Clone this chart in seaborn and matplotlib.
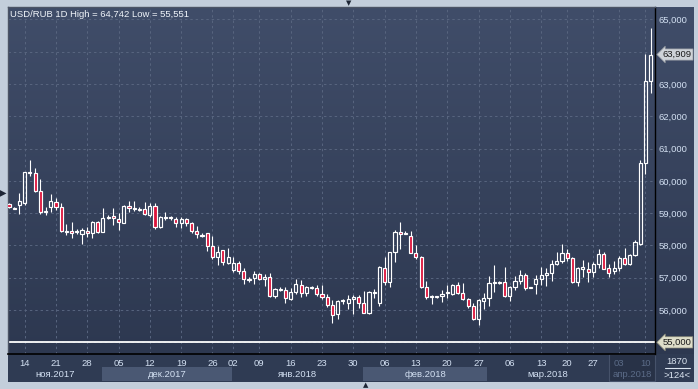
import numpy as np
import pandas as pd
import matplotlib
matplotlib.use("Agg")
import matplotlib.pyplot as plt
import matplotlib.transforms as mtransforms
from matplotlib.patches import Rectangle
from matplotlib.colors import LinearSegmentedColormap
import seaborn as sns

# ---------------- data (USD/RUB daily OHLC) ----------------
open_ = [59.28, 59.16, 59.25, 59.32, 60.24, 60.23, 59.68, 59.03, 59.19, 59.35,
         59.19, 58.43, 58.46, 58.42, 58.34, 58.46, 58.38, 58.72, 58.43, 58.86,
         58.91, 58.83, 58.71, 59.21, 59.14, 59.13, 59.12, 58.94, 59.22, 58.58,
         58.87, 58.86, 58.81, 58.71, 58.81, 58.71, 58.46, 58.32, 58.37, 57.98,
         57.64, 57.86, 57.47, 57.25, 57.45, 57.21, 56.95, 56.98, 57.12, 56.96,
         57.02, 56.42, 56.65, 56.62, 56.35, 56.56, 56.77, 56.53, 56.70, 56.69,
         56.49, 56.41, 56.15, 55.89, 56.28, 56.22, 56.35, 56.41, 56.22, 55.91,
         56.55, 56.22, 57.30, 56.86, 57.79, 58.43, 58.35, 58.29, 57.78, 57.63,
         56.70, 56.41, 56.41, 56.43, 56.52, 56.51, 56.78, 56.53, 56.35, 56.12,
         55.73, 56.28, 56.38, 56.85, 56.85, 56.86, 56.44, 56.71, 56.89, 57.09,
         56.70, 56.81, 56.96, 57.08, 57.16, 57.43, 57.51, 57.76, 57.61, 56.88,
         57.28, 57.26, 57.19, 57.43, 57.73, 57.31, 57.21, 57.31, 57.61, 57.43,
         57.69, 58.06, 60.54, 63.10]
high = [59.31, 59.18, 59.61, 60.28, 60.65, 60.40, 60.05, 59.19, 59.60, 59.46,
        59.32, 58.66, 58.73, 58.50, 58.55, 58.58, 58.76, 58.76, 59.16, 58.95,
        59.15, 59.00, 59.26, 59.39, 59.37, 59.18, 59.35, 59.32, 59.32, 58.92,
        59.05, 58.91, 58.89, 58.88, 58.85, 58.73, 58.60, 58.38, 58.39, 58.29,
        57.97, 57.86, 57.92, 57.64, 57.51, 57.30, 57.02, 57.20, 57.16, 57.12,
        57.14, 56.68, 56.71, 56.70, 56.68, 56.96, 56.94, 56.75, 56.75, 56.77,
        56.77, 56.50, 56.32, 56.31, 56.35, 56.48, 56.48, 56.48, 56.58, 56.58,
        56.65, 57.35, 57.65, 57.81, 58.47, 58.74, 58.44, 58.45, 58.01, 57.67,
        56.89, 56.47, 56.43, 56.63, 56.79, 56.80, 56.87, 56.84, 56.38, 56.22,
        56.35, 56.53, 57.06, 57.41, 56.90, 57.33, 56.76, 57.06, 57.23, 57.16,
        56.72, 57.09, 57.33, 57.31, 57.56, 57.81, 58.03, 57.89, 57.63, 57.33,
        57.56, 57.49, 57.49, 57.89, 57.81, 57.43, 57.51, 57.66, 57.91, 57.73,
        58.18, 60.64, 63.93, 64.742]
low = [59.17, 59.13, 58.98, 59.26, 60.16, 59.65, 58.98, 58.93, 59.02, 59.10,
       58.42, 58.32, 58.23, 58.35, 58.03, 58.26, 58.24, 58.37, 58.42, 58.82,
       58.63, 58.49, 58.68, 59.04, 59.07, 59.08, 58.94, 58.89, 58.52, 58.54,
       58.79, 58.79, 58.58, 58.55, 58.60, 58.40, 58.23, 58.25, 57.82, 57.57,
       57.38, 57.40, 57.43, 57.18, 57.12, 56.80, 56.87, 56.81, 56.92, 56.76,
       56.41, 56.38, 56.59, 56.22, 56.32, 56.51, 56.40, 56.42, 56.65, 56.42,
       56.34, 56.08, 55.60, 55.71, 56.19, 56.02, 55.87, 56.07, 55.90, 55.87,
       56.38, 56.12, 56.79, 56.70, 57.50, 57.88, 58.34, 57.76, 57.57, 56.68,
       56.35, 56.19, 56.38, 56.26, 56.38, 56.47, 56.49, 56.31, 56.07, 55.68,
       55.551, 56.04, 56.12, 56.55, 56.80, 56.41, 56.29, 56.61, 56.81, 56.63,
       56.68, 56.51, 56.78, 56.76, 56.91, 57.39, 57.46, 57.51, 56.83, 56.76,
       57.01, 56.86, 57.03, 57.31, 57.26, 57.03, 57.13, 57.21, 57.41, 57.41,
       57.66, 58.01, 60.21, 62.72]
close = [59.20, 59.15, 59.39, 60.26, 60.27, 59.68, 59.05, 59.06, 59.37, 59.19,
         58.44, 58.46, 58.40, 58.44, 58.47, 58.38, 58.72, 58.43, 58.86, 58.88,
         58.84, 58.72, 59.23, 59.15, 59.15, 59.12, 58.97, 59.22, 58.58, 58.88,
         58.86, 58.85, 58.71, 58.81, 58.71, 58.45, 58.34, 58.31, 57.98, 57.65,
         57.81, 57.48, 57.64, 57.45, 57.22, 56.96, 56.94, 57.12, 56.96, 57.02,
         56.43, 56.65, 56.64, 56.36, 56.56, 56.80, 56.53, 56.71, 56.71, 56.49,
         56.41, 56.15, 55.86, 56.28, 56.29, 56.35, 56.41, 56.22, 55.92, 56.56,
         56.56, 57.33, 56.86, 57.79, 58.43, 58.34, 58.37, 57.78, 57.63, 56.70,
         56.40, 56.42, 56.42, 56.51, 56.54, 56.78, 56.53, 56.35, 56.12, 55.73,
         56.30, 56.38, 56.84, 56.86, 56.86, 56.44, 56.71, 56.89, 57.09, 56.69,
         56.71, 56.96, 57.09, 57.16, 57.43, 57.51, 57.76, 57.61, 56.86, 57.29,
         57.33, 57.19, 57.43, 57.73, 57.28, 57.16, 57.31, 57.61, 57.44, 57.69,
         58.11, 60.54, 63.10, 63.909]

tick_pos = [3, 9, 15, 21, 27, 33, 39, 43, 48, 54, 60, 66, 72, 78, 84, 90,
            96, 102, 107, 112, 117, 122]
tick_labels = ["14", "21", "28", "05", "12", "19", "26", "02", "09", "16", "23",
               "30", "06", "13", "20", "27", "06", "13", "20", "27", "03", "10"]
month_labels = ["ноя.2017", "дек.2017", "янв.2018", "фев.2018", "мар.2018", "апр.2018"]
month_edges = [-0.19, 17.8, 42.8, 67.9, 91.7, 115.0, 123.83]
y_levels = [55, 56, 57, 58, 59, 60, 61, 62, 63, 64, 65]
title = "USD/RUB 1D High = 64,742 Low = 55,551"
last_price = 63.909
bars_count = ">124<"
bars_total = "1870"

# ---------------- style ----------------
sns.set_style("dark")
plt.rcParams["font.family"] = ["Liberation Sans", "DejaVu Sans"]

W, H = 698, 389
fig = plt.figure(figsize=(W / 100, H / 100), dpi=100)
fig.patch.set_facecolor("#c3cedb")

txt_col = "#d3e0f2"
dim_col = "#5b6b87"
fs = 6.8

# background layer in pixel coordinates
bg = fig.add_axes([0, 0, 1, 1])
bg.axis("off")
grad = np.linspace(0, 1, 256).reshape(-1, 1)
cmap = LinearSegmentedColormap.from_list("bgc", ["#404d69", "#2d3850"])
bg.imshow(grad, cmap=cmap, extent=(8, 694, 354, 7), aspect="auto",
          origin="upper", zorder=0, interpolation="bilinear")
bg.add_patch(Rectangle((8, 354), 686, 28, facecolor="#2f3b53",
                       edgecolor="none", zorder=1))
bg.set_xlim(0, W)
bg.set_ylim(H, 0)

# main axes
ax = fig.add_axes([8 / W, (H - 354) / H, 647 / W, 347 / H])
ax.set_facecolor("none")

df = pd.DataFrame({"i": np.arange(len(close)), "o": open_, "h": high,
                   "l": low, "c": close})
df["top"] = df[["o", "c"]].max(axis=1)
df["bot"] = df[["o", "c"]].min(axis=1)
df["body"] = (df["top"] - df["bot"]).clip(lower=0.03)
df["base"] = (df["top"] + df["bot"]) / 2 - df["body"] / 2
up = df[df["c"] >= df["o"]].sort_values("i")
dn = df[df["c"] < df["o"]].sort_values("i")

ax.vlines(df["i"], df["top"], df["h"], color="white", lw=0.8, zorder=3)
ax.vlines(df["i"], df["l"], df["bot"], color="white", lw=0.8, zorder=3)

sns.barplot(x=up["i"].values, y=up["body"].values, bottom=up["base"].values,
            native_scale=True, orient="x", width=0.6, fill=False, color="white",
            linewidth=0.85, errorbar=None, ax=ax, zorder=4)
sns.barplot(x=dn["i"].values, y=dn["body"].values, bottom=dn["base"].values,
            native_scale=True, orient="x", width=0.6, color="#dc143c",
            saturation=1, edgecolor="white", linewidth=0.85, errorbar=None,
            ax=ax, zorder=4)

ax.axhline(55, color="white", lw=1.3, zorder=2)

ax.set_xlim(-0.19, 123.83)
ax.set_ylim(54.64, 65.38)
ax.set_xlabel("")
ax.set_ylabel("")
ax.set_xticks(tick_pos)
ax.set_xticklabels(tick_labels)
ax.set_yticks(y_levels)
ax.set_yticklabels(["" if v in (55, 64) else f"{v:.3f}".replace(".", ",")
                    for v in y_levels])
ax.yaxis.tick_right()
ax.tick_params(axis="both", length=0, labelsize=fs, colors=txt_col)
ax.tick_params(axis="y", pad=2.4)
ax.tick_params(axis="x", pad=3.5)
for lbl in ax.get_xticklabels()[-2:]:
    lbl.set_color(dim_col)
ax.grid(True, color="#58657f", linestyle=(0, (2.5, 3)), linewidth=0.7)
ax.set_axisbelow(True)

for s in ["left", "top"]:
    ax.spines[s].set_color("#4c5465")
    ax.spines[s].set_linewidth(1)
ax.spines["right"].set_color("black")
ax.spines["right"].set_linewidth(1)
ax.spines["bottom"].set_color("black")
ax.spines["bottom"].set_linewidth(1.2)

ax.text(0.003, 0.99, title, transform=ax.transAxes, ha="left", va="top",
        fontsize=fs, color="#f0f4fa")

# price labels on the right
ytr = mtransforms.blended_transform_factory(ax.transAxes, ax.transData)
ax.text(1.012, last_price, f"{last_price:.3f}".replace(".", ","), transform=ytr,
        ha="left", va="center", fontsize=fs, color="#1a1a1a", clip_on=False,
        bbox=dict(boxstyle="larrow,pad=0.12", fc="#cfd3d8", ec="#8a9099", lw=0.5))
ax.text(1.012, 55, "55,000", transform=ytr, ha="left", va="center",
        fontsize=fs, color="#1a1a1a", clip_on=False,
        bbox=dict(boxstyle="larrow,pad=0.12", fc="#dedec9", ec="#8a8a78", lw=0.5))

# month bands in the bottom panel
btr = mtransforms.blended_transform_factory(ax.transData, bg.transData)
for k, lab in enumerate(month_labels):
    x0, x1 = month_edges[k], month_edges[k + 1]
    if k == len(month_labels) - 1:
        bg.add_patch(Rectangle((x0, 354), x1 - x0, 27, transform=btr,
                               facecolor="#283247", edgecolor="#46526a",
                               lw=0.8, zorder=2, clip_on=False))
        col = dim_col
    else:
        if k % 2 == 1:
            bg.add_patch(Rectangle((x0, 367), x1 - x0, 14, transform=btr,
                                   facecolor="#4a5873", edgecolor="none",
                                   zorder=2, clip_on=False))
        col = txt_col
    bg.text((x0 + x1) / 2, 374.5, lab, transform=btr, ha="center",
            va="center", fontsize=fs, color=col, zorder=3)

bg.text(677, 361.5, bars_total, ha="center", va="center", fontsize=fs,
        color="#dbe4f0", zorder=3)
bg.plot([665, 690], [368, 368], color="#dbe4f0", lw=0.8, zorder=3)
bg.text(677, 375, bars_count, ha="center", va="center", fontsize=fs,
        color="#dbe4f0", zorder=3)

# small UI markers
fig.text(3 / W, 1 - 193 / H, "▶", ha="center", va="center", fontsize=7,
         color="#1d2535", family="DejaVu Sans")
fig.text(349 / W, 1 - 3 / H, "▼", ha="center", va="center", fontsize=5,
         color="#1d2535", family="DejaVu Sans")
fig.text(366 / W, 1 - 385 / H, "▲", ha="center", va="center", fontsize=5,
         color="#1d2535", family="DejaVu Sans")

fig.savefig("out.png", dpi=100, facecolor=fig.get_facecolor())
